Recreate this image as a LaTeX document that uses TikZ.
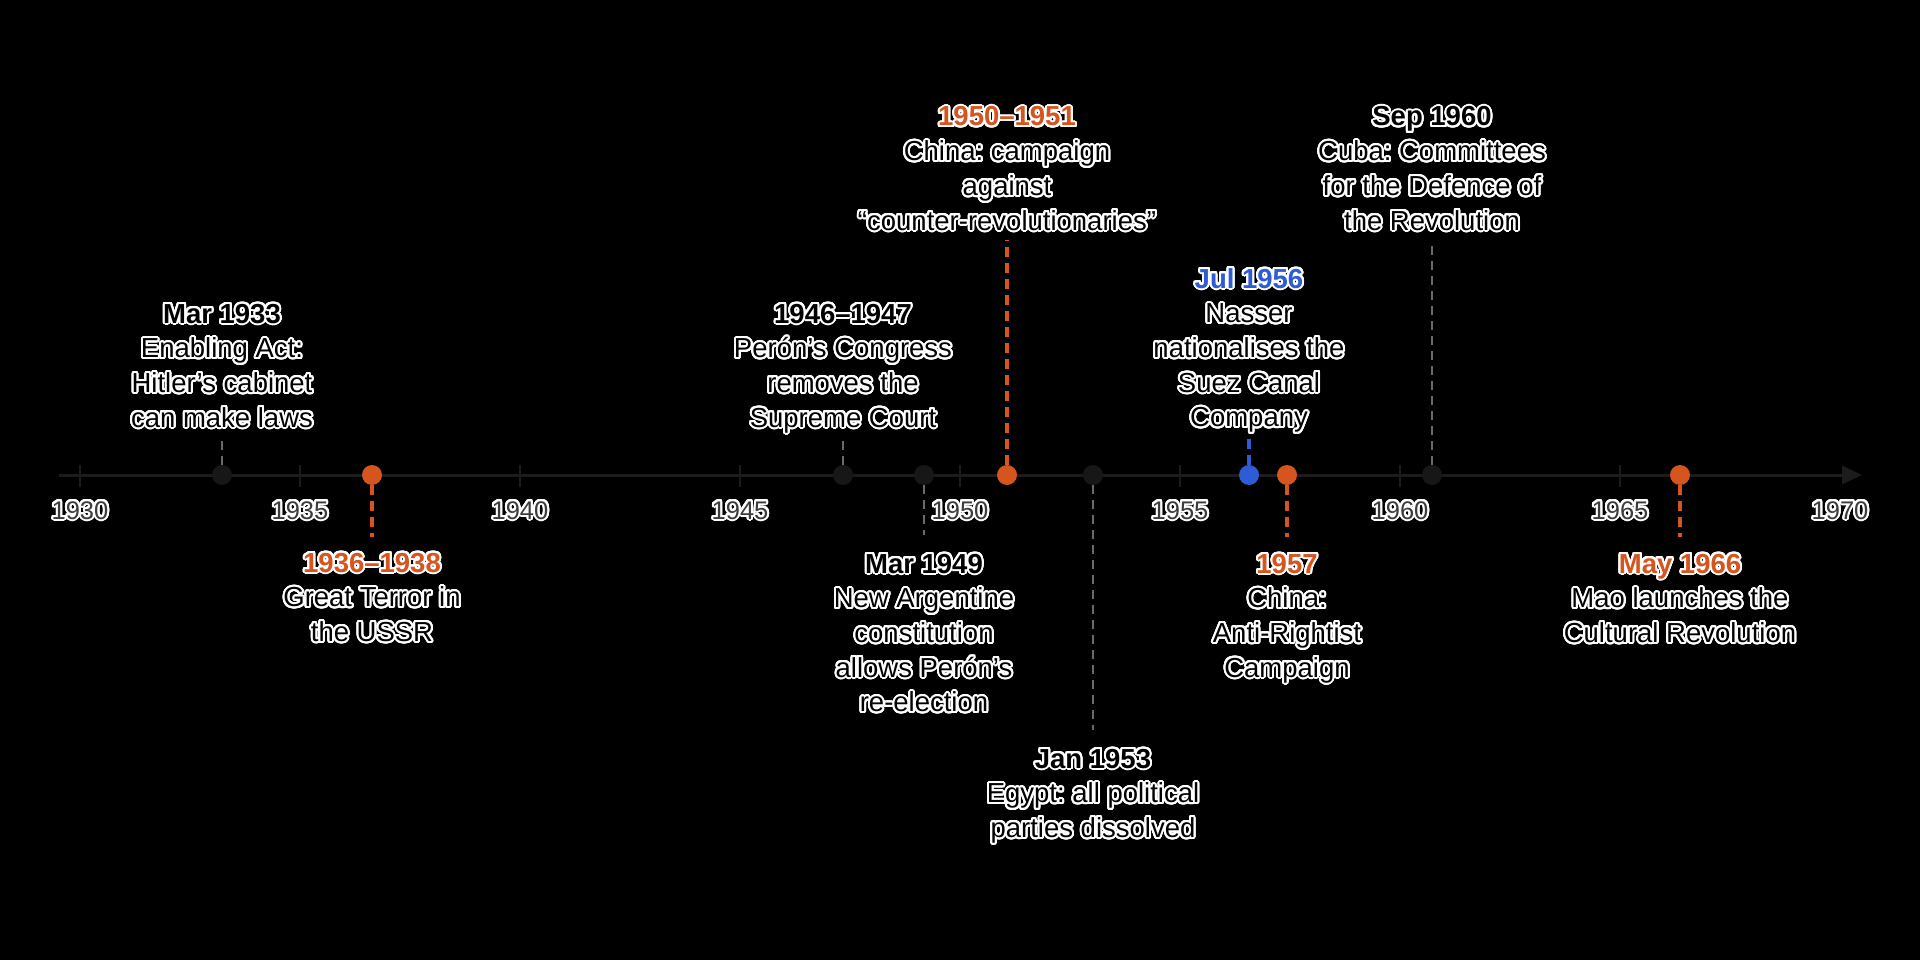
\documentclass[tikz,border=0pt]{standalone}
\usepackage{fontspec}
\setmainfont{Liberation Sans}
\usepackage[copies]{contour}
\contourlength{2pt}
\contournumber{32}
\usetikzlibrary{arrows.meta}
\frenchspacing
\definecolor{orng}{HTML}{D6541E}
\definecolor{blu}{HTML}{2D5CD6}
\definecolor{axisc}{HTML}{1C1C1C}
\definecolor{dotc}{HTML}{171717}
\definecolor{stemc}{HTML}{6A6A6A}
\definecolor{yearc}{HTML}{3C3C3C}
\newcommand\hl[1]{\contour{white}{#1}}
\newcommand\dt[1]{\contour{white}{\bfseries #1}}
\tikzset{
  evlabel/.style={anchor=base, align=center, inner sep=0pt, text=black,
    font=\fontsize{27.5}{34.7}\selectfont},
  yearlabel/.style={anchor=base, inner sep=0pt, text=yearc,
    font=\fontsize{25.5}{30}\selectfont},
  dot/.style={circle, inner sep=0pt, minimum size=20pt, fill=dotc},
  odot/.style={dot, fill=orng},
  bdot/.style={dot, fill=blu},
  gstem/.style={draw=stemc, line width=2pt, dash pattern=on 9pt off 6pt},
  ostem/.style={draw=orng, line width=3.8pt, dash pattern=on 10pt off 6pt},
  bstem/.style={draw=blu, line width=3.8pt, dash pattern=on 10pt off 6pt},
  axisline/.style={draw=axisc, line width=3pt},
  tickline/.style={draw=axisc, line width=2pt}
}
\begin{document}
\begin{tikzpicture}[x=1pt, y=-1pt]
\fill[black] (0,0) rectangle (1920,960);
\useasboundingbox (0,0) rectangle (1920,960);
% axis
\coordinate (ax0) at (59,475);
\coordinate (ax1) at (1862,475);
\draw[axisline, -{Triangle[length=20pt,width=18pt]}] (ax0) -- (ax1);
\foreach \k in {0,...,7} {
  \coordinate (tA\k) at ({80+220*\k},465);
  \coordinate (tB\k) at ({80+220*\k},487);
  \draw[tickline] (tA\k) -- (tB\k);
}
% dots
\node[dot]  (d1)  at (222,475)  {};
\node[odot] (d2)  at (372,475)  {};
\node[dot]  (d3)  at (843,475)  {};
\node[dot]  (d4)  at (924,475)  {};
\node[odot] (d5)  at (1007,475) {};
\node[dot]  (d6)  at (1093,475) {};
\node[bdot] (d7)  at (1249,475) {};
\node[odot] (d8)  at (1287,475) {};
\node[dot]  (d9)  at (1432,475) {};
\node[odot] (d10) at (1680,475) {};
% stem ends
\coordinate (s1)  at (222,437);
\coordinate (s2)  at (372,537);
\coordinate (s3)  at (843,437);
\coordinate (s4)  at (924,535);
\coordinate (s5)  at (1007,240);
\coordinate (s6)  at (1093,730);
\coordinate (s7)  at (1249,437);
\coordinate (s8)  at (1287,537);
\coordinate (s9)  at (1432,240);
\coordinate (s10) at (1680,537);
\draw[gstem] (d1) -- (s1);
\draw[ostem] (d2) -- (s2);
\draw[gstem] (d3) -- (s3);
\draw[gstem] (d4) -- (s4);
\draw[ostem] (d5) -- (s5);
\draw[gstem] (d6) -- (s6);
\draw[bstem] (d7) -- (s7);
\draw[ostem] (d8) -- (s8);
\draw[gstem] (d9) -- (s9);
\draw[ostem] (d10) -- (s10);
% year labels
\foreach \y [count=\i from 0] in {1930,1935,1940,1945,1950,1955,1960,1965,1970} {
  \node[yearlabel] (y\y) at ({80+220*\i},519) {\hl{\y}};
}
% event labels (anchor = baseline of last line)
\node[evlabel] (l1) at (222,427.1) {\dt{Mar 1933}\\ \hl{Enabling Act:}\\ \hl{Hitler’s cabinet}\\ \hl{can make laws}};
\node[evlabel] (l2) at (372,641.4) {\textcolor{orng}{\dt{1936–1938}}\\ \hl{Great Terror in}\\ \hl{the USSR}};
\node[evlabel] (l3) at (843,427.1) {\dt{1946–1947}\\ \hl{Perón’s Congress}\\ \hl{removes the}\\ \hl{Supreme Court}};
\node[evlabel] (l4) at (924,711.8) {\dt{Mar 1949}\\ \hl{New Argentine}\\ \hl{constitution}\\ \hl{allows Perón’s}\\ \hl{re-election}};
\node[evlabel] (l5) at (1007,230.1) {\textcolor{orng}{\dt{1950–1951}}\\ \hl{China: campaign}\\ \hl{against}\\ \hl{“counter-revolutionaries”}};
\node[evlabel] (l6) at (1093,837.4) {\dt{Jan 1953}\\ \hl{Egypt: all political}\\ \hl{parties dissolved}};
\node[evlabel] (l7) at (1249,426.8) {\textcolor{blu}{\dt{Jul 1956}}\\ \hl{Nasser}\\ \hl{nationalises the}\\ \hl{Suez Canal}\\ \hl{Company}};
\node[evlabel] (l8) at (1287,677.1) {\textcolor{orng}{\dt{1957}}\\ \hl{China:}\\ \hl{Anti-Rightist}\\ \hl{Campaign}};
\node[evlabel] (l9) at (1432,230.1) {\dt{Sep 1960}\\ \hl{Cuba: Committees}\\ \hl{for the Defence of}\\ \hl{the Revolution}};
\node[evlabel] (l10) at (1680,642.4) {\textcolor{orng}{\dt{May 1966}}\\ \hl{Mao launches the}\\ \hl{Cultural Revolution}};
\end{tikzpicture}
\end{document}
